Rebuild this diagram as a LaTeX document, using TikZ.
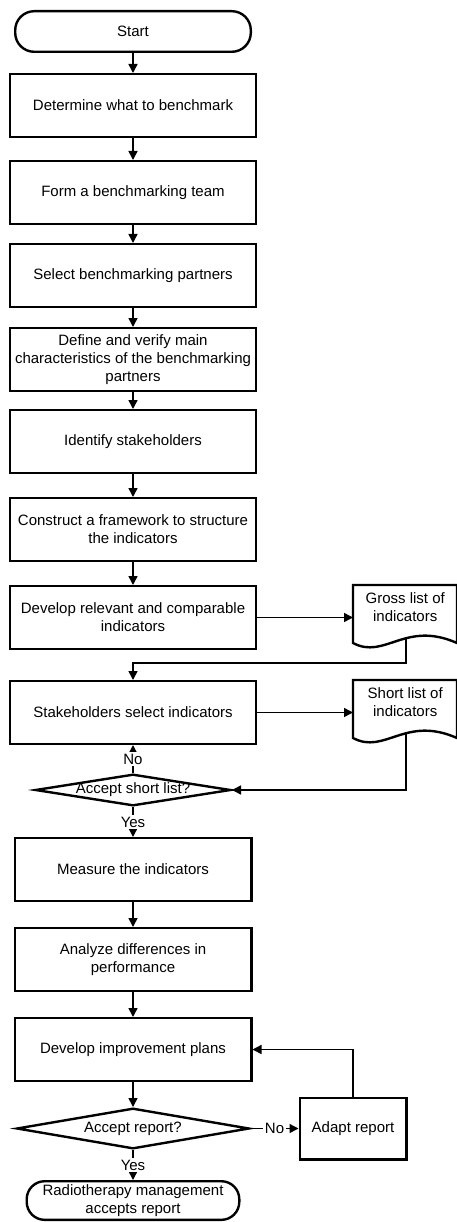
\documentclass[tikz,border=0pt]{standalone}
\usepackage{fontspec}
\setmainfont{Liberation Sans}
\usetikzlibrary{arrows.meta,positioning,shapes.geometric}

\newcommand\docoutline[1]{%
	\draw[docline, shift={(#1.north west)}] (0,0) -- (104,0) -- (104,58)
		.. controls (52,35) and (32,75) .. (0,58) -- cycle
		coordinate (#1-out) at (53,53);}

\begin{document}
\begin{tikzpicture}[
		x=1pt, y=-1pt,
		node distance=20pt,
		font=\fontsize{15pt}{18pt}\selectfont,
		arrow/.style={-{Triangle[length=9pt, width=9pt]}, line width=1.5pt},
		block/.style={draw, line width=2.4pt, minimum height=62.6pt, minimum width=245.6pt, align=center},
		narrow/.style={block, minimum width=236.6pt},
		terminal/.style={draw, line width=2.4pt, rounded corners=19pt, align=center},
		decision/.style={draw, diamond, line width=2.4pt, inner sep=0pt},
		docnode/.style={minimum width=104pt, minimum height=44pt, inner sep=0pt, align=center},
		docline/.style={draw, line width=2.4pt},
		lbl/.style={fill=white, inner sep=1.5pt},
	]
		\useasboundingbox (0,0) rectangle (456,1222);

		\node (start) [terminal, minimum width=235.6pt, minimum height=40.6pt] at (133,31.5) {Start};
		\node (what) [block, below=of start] {Determine what to benchmark};
		\node (team) [block, below=22pt of what] {Form a benchmarking team};
		\node (partners) [block, below=18pt of team] {Select benchmarking partners};
		\node (traits) [block, below=19pt of partners] {Define and verify main\\characteristics of the benchmarking\\partners};
		\node (holders) [block, below=17pt of traits] {Identify stakeholders};
		\node (frame) [block, below=23pt of holders] {Construct a framework to structure\\the indicators};
		\node (develop) [block, below=23pt of frame] {Develop relevant and comparable\\indicators};
		\node (choose) [block, below=30pt of develop] {Stakeholders select indicators};
		\node (okshort) [decision, minimum width=195.6pt, minimum height=31.6pt, below=28pt of choose, label=center:Accept short list?] {};
		\node (measure) [narrow, below=30pt of okshort] {Measure the indicators};
		\node (analyze) [narrow, below=25pt of measure] {Analyze differences in\\performance};
		\node (improve) [narrow, below=25pt of analyze] {Develop improvement plans};
		\node (okreport) [decision, minimum width=232.6pt, minimum height=40.6pt, below=25pt of improve, label=center:Accept report?] {};
		\node (accepts) [terminal, minimum width=212.6pt, minimum height=37.6pt, rounded corners=18pt, below=30pt of okreport] {Radiotherapy management\\accepts report};
		\node (adapt) [draw, line width=2.4pt, minimum width=106.6pt, minimum height=61.6pt, right=48pt of okreport] {Adapt report};
		\node (gross) [docnode, right=96pt of develop.north east, anchor=north west] {Gross list of\\indicators};
		\node (short) [docnode, right=96pt of choose.north east, anchor=north west] {Short list of\\indicators};
		\docoutline{gross}
		\docoutline{short}

		\draw[arrow] (start) -- (what);
		\draw[arrow] (what) -- (team);
		\draw[arrow] (team) -- (partners);
		\draw[arrow] (partners) -- (traits);
		\draw[arrow] (traits) -- (holders);
		\draw[arrow] (holders) -- (frame);
		\draw[arrow] (frame) -- (develop);
		\draw[arrow] (develop) -- (develop.east -| gross.west);
		\draw[arrow] (gross-out) -- ++(0,25) -| (choose.north);
		\draw[arrow] (choose) -- (choose.east -| short.west);
		\draw[arrow] (short-out) |- (okshort.east);
		\draw[arrow] (okshort) -- node[lbl]{No} (choose);
		\draw[arrow] (okshort) -- node[lbl]{Yes} (measure);
		\draw[arrow] (measure) -- (analyze);
		\draw[arrow] (analyze) -- (improve);
		\draw[arrow] (improve) -- (okreport);
		\draw[arrow] (okreport) -- node[lbl]{No} (adapt);
		\draw[arrow] (adapt) |- (improve);
		\draw[arrow] (okreport) -- node[lbl]{Yes} (accepts);
	\end{tikzpicture}
\end{document}
